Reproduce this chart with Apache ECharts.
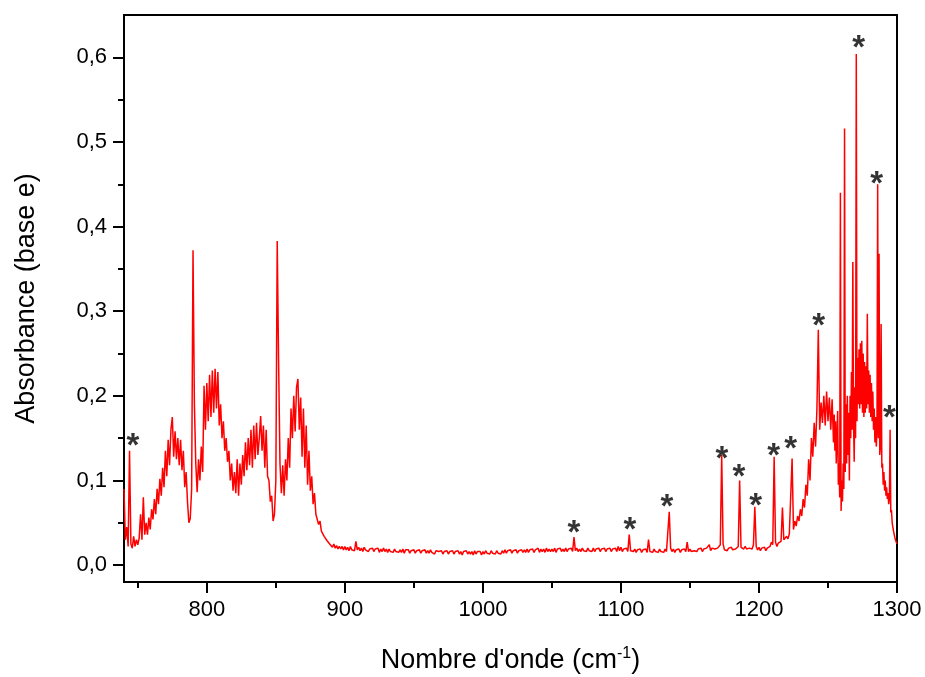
<!DOCTYPE html>
<html>
<head>
<meta charset="utf-8">
<script src="https://cdn.jsdelivr.net/npm/echarts@6/dist/echarts.min.js"></script>
<style>
html,body{margin:0;padding:0;background:#fff;}
#chart{width:925px;height:677px;}
</style>
</head>
<body>
<div id="chart"></div>
<script>
// ---- data ----
const lowStart = 740;   // wavenumber of first value
const lowStep = 1;      // cm-1 between values
const lowAbs = [
/*740*/ 0.090,0.030,0.045,0.022,0.135,0.025,0.020,0.034,0.022,0.030,
/*750*/ 0.024,0.032,0.060,0.030,0.080,0.036,0.050,0.036,0.056,0.042,
/*760*/ 0.066,0.054,0.078,0.060,0.090,0.072,0.102,0.082,0.115,0.092,
/*770*/ 0.135,0.105,0.148,0.118,0.160,0.175,0.128,0.158,0.125,0.150,
/*780*/ 0.118,0.148,0.112,0.135,0.092,0.110,0.075,0.050,0.055,0.090,
/*790*/ 0.372,0.190,0.120,0.086,0.125,0.100,0.140,0.110,0.212,0.160,
/*800*/ 0.215,0.170,0.225,0.175,0.230,0.180,0.232,0.185,0.228,0.165,
/*810*/ 0.190,0.150,0.170,0.135,0.150,0.122,0.135,0.100,0.120,0.088,
/*820*/ 0.110,0.085,0.125,0.082,0.120,0.095,0.130,0.105,0.145,0.112,
/*830*/ 0.150,0.118,0.160,0.115,0.165,0.125,0.168,0.130,0.150,0.176,
/*840*/ 0.135,0.165,0.115,0.160,0.105,0.100,0.075,0.082,0.052,0.060,
/*850*/ 0.100,0.383,0.240,0.120,0.085,0.118,0.082,0.125,0.100,0.150,
/*860*/ 0.115,0.185,0.150,0.200,0.158,0.210,0.220,0.160,0.198,0.128,
/*870*/ 0.185,0.115,0.165,0.095,0.135,0.088,0.105,0.072,0.085,0.060,
/*880*/ 0.062,0.048,0.052,0.040,0.042,0.034,0.036,0.029,0.031,0.025,
/*890*/ 0.027,0.021,0.025,0.020,0.023,0.019,0.022,0.019,0.022,0.018,
/*900*/ 0.022,0.018,0.021,0.017,0.022,0.018,0.020,0.017,0.028,0.018,
/*910*/ 0.021,0.017,0.020,0.016,0.021,0.018,0.020,0.016,0.019,0.017,
/*920*/ 0.020,0.016,0.019,0.017,0.020,0.015,0.019,0.016,0.020,0.016,
/*930*/ 0.019,0.015,0.019,0.016,0.018,0.015,0.019,0.016,0.018,0.015,
/*940*/ 0.018,0.015,0.019,0.014,0.018,0.016,0.018,0.014,0.017,0.015,
/*950*/ 0.018,0.014,0.017,0.015,0.018,0.014,0.017,0.015,0.018,0.014,
/*960*/ 0.017,0.014,0.018,0.015,0.017,0.013,0.017,0.015,0.016,0.014,
/*970*/ 0.017,0.013,0.016,0.014,0.017,0.013,0.016,0.014,0.017,0.013,
/*980*/ 0.016,0.014,0.017,0.013,0.016,0.012,0.016,0.014,0.017,0.013,
/*990*/ 0.016,0.013,0.016,0.012,0.017,0.013,0.016,0.014,0.016,0.012,
/*1000*/ 0.016,0.013,0.017,0.014,0.016,0.013,0.017,0.014,0.016,0.013,
/*1010*/ 0.017,0.014,0.016,0.013,0.017,0.014,0.018,0.014,0.017,0.015,
/*1020*/ 0.018,0.014,0.017,0.015,0.018,0.014,0.017,0.015,0.018,0.015,
/*1030*/ 0.018,0.015,0.019,0.015,0.018,0.016,0.019,0.015,0.018,0.016,
/*1040*/ 0.020,0.015,0.019,0.016,0.019,0.015,0.020,0.016,0.019,0.016,
/*1050*/ 0.019,0.016,0.020,0.015,0.019,0.017,0.020,0.016,0.019,0.016,
/*1060*/ 0.020,0.016,0.019,0.017,0.020,0.016,0.033,0.017,0.020,0.016,
/*1070*/ 0.019,0.016,0.020,0.017,0.019,0.016,0.020,0.017,0.019,0.016,
/*1080*/ 0.020,0.016,0.019,0.017,0.020,0.016,0.019,0.017,0.020,0.016,
/*1090*/ 0.019,0.017,0.020,0.016,0.019,0.017,0.020,0.016,0.022,0.017,
/*1100*/ 0.021,0.016,0.019,0.017,0.020,0.016,0.036,0.017,0.019,0.016,
/*1110*/ 0.019,0.015,0.018,0.016,0.019,0.015,0.018,0.016,0.019,0.015,
/*1120*/ 0.030,0.016,0.018,0.015,0.019,0.016,0.018,0.015,0.019,0.016,
/*1130*/ 0.018,0.015,0.019,0.016,0.018,0.063,0.020,0.016,0.019,0.015,
/*1140*/ 0.018,0.016,0.019,0.015,0.018,0.016,0.019,0.016,0.027,0.016,
/*1150*/ 0.019,0.016,0.018,0.017,0.019,0.016,0.019,0.017,0.020,0.016,
/*1160*/ 0.019,0.017,0.020,0.018,0.024,0.017,0.020,0.018,0.019,0.017,
/*1170*/ 0.020,0.018,0.024,0.130,0.025,0.018,0.020,0.017,0.020,0.018,
/*1180*/ 0.021,0.018,0.020,0.019,0.021,0.022,0.100,0.021,0.022,0.019,
/*1190*/ 0.022,0.019,0.021,0.020,0.022,0.019,0.024,0.069,0.022,0.018,
/*1200*/ 0.021,0.017,0.020,0.018,0.021,0.017,0.020,0.018,0.022,0.027,
/*1210*/ 0.024,0.128,0.027,0.022,0.026,0.024,0.028,0.068,0.030,0.028,
/*1220*/ 0.034,0.031,0.037,0.035,0.126,0.042,0.052,0.046,0.058,0.052,
/*1230*/ 0.066,0.058,0.078,0.068,0.095,0.082,0.125,0.100,0.150,0.128,
/*1240*/ 0.168,0.140,0.185,0.278,0.160,0.192,0.168,0.200,0.165,0.205,
/*1250*/ 0.170,0.198,0.160,0.196,0.145
];
// finer readings in the crowded high-wavenumber end: [wavenumber, absorbance]
const highAbs = [
[1254.5,0.178],[1255.0,0.135],[1255.5,0.170],[1256.0,0.120],[1256.5,0.150],
[1257.0,0.182],[1257.5,0.095],[1258.0,0.120],[1258.5,0.080],[1259.0,0.440],
[1259.5,0.064],[1260.0,0.100],[1260.5,0.075],[1261.0,0.120],[1261.5,0.090],
[1262.0,0.516],[1262.5,0.110],[1263.0,0.190],[1263.5,0.120],[1264.0,0.200],
[1264.5,0.130],[1265.0,0.180],[1265.5,0.100],[1266.0,0.200],[1266.5,0.150],
[1267.0,0.228],[1267.5,0.160],[1268.0,0.358],[1268.5,0.170],[1269.0,0.122],
[1269.5,0.210],[1270.0,0.150],[1270.5,0.604],[1271.0,0.170],[1271.5,0.245],
[1272.0,0.190],[1272.5,0.255],[1273.0,0.185],[1273.5,0.262],[1274.0,0.190],
[1274.5,0.265],[1275.0,0.180],[1275.5,0.250],[1276.0,0.175],[1276.5,0.240],
[1277.0,0.180],[1277.5,0.235],[1278.0,0.185],[1278.5,0.297],[1279.0,0.190],
[1279.5,0.230],[1280.0,0.180],[1280.5,0.225],[1281.0,0.175],[1281.5,0.215],
[1282.0,0.170],[1282.5,0.205],[1283.0,0.160],[1283.5,0.185],[1284.0,0.145],
[1284.5,0.175],[1285.0,0.140],[1285.5,0.160],[1286.0,0.450],[1286.5,0.150],
[1287.0,0.368],[1287.5,0.130],[1288.0,0.140],[1288.5,0.285],[1289.0,0.115],
[1289.5,0.120],[1290.0,0.095],[1290.5,0.110],[1291.0,0.088],[1291.5,0.100],
[1292.0,0.082],[1292.5,0.092],[1293.0,0.078],[1293.5,0.085],[1294.0,0.072],
[1294.5,0.078],[1295.0,0.160],[1295.5,0.062],[1296.0,0.065],[1296.5,0.050],
[1297.0,0.048],[1297.5,0.040],[1298.0,0.038],[1298.5,0.032],[1299.0,0.030],
[1299.5,0.027],[1300.0,0.025]
];
// asterisk markers
const starWavenumber = [746.5, 1066, 1106.6, 1133.3, 1173.1, 1185.4, 1197.7, 1210.7, 1223, 1243.3, 1272.2, 1285.2, 1294.6];
const starAbs        = [0.149, 0.046, 0.050, 0.077, 0.134, 0.113, 0.078, 0.137, 0.145, 0.291, 0.619, 0.459, 0.182];
// ticks
const xMajorTicks = [800, 900, 1000, 1100, 1200, 1300];
const xMinorTicks = [750, 850, 950, 1050, 1150, 1250];
const yMajorTicks = [0, 0.1, 0.2, 0.3, 0.4, 0.5, 0.6];
const yMinorTicks = [0.05, 0.15, 0.25, 0.35, 0.45, 0.55];
const xTitle = "Nombre d'onde (cm";
const xTitleSup = "-1";
const yTitle = "Absorbance (base e)";

// ---- chart ----
const spectrum = lowAbs.map((v, i) => [lowStart + i * lowStep, v]).concat(highAbs);
const stars = starWavenumber.map((x, i) => [x, starAbs[i]]);
const FONT = "'Liberation Sans', Arial, sans-serif";
const X_MIN = 740, X_MAX = 1300, Y_MIN = -0.02, Y_MAX = 0.65;

const chart = echarts.init(document.getElementById('chart'), null, {renderer: 'canvas'});
chart.setOption({
  animation: false,
  backgroundColor: '#fff',
  grid: {left: 124, right: 28, top: 15, bottom: 95, containLabel: false, outerBoundsMode: 'none',
    show: true, borderColor: '#000', borderWidth: 2, backgroundColor: 'transparent'},
  xAxis: [{
    type: 'value', min: X_MIN, max: X_MAX, position: 'bottom',
    axisLine: {show: true, onZero: false, lineStyle: {color: '#000', width: 2}},
    axisTick: {show: true, customValues: xMajorTicks, length: 11, inside: false, lineStyle: {color: '#000', width: 2}},
    axisLabel: {show: true, customValues: xMajorTicks, color: '#000', fontSize: 22, fontFamily: FONT, margin: 17,
      formatter: v => String(Math.round(v))},
    splitLine: {show: false},
    name: xTitle + '{sup|' + xTitleSup + '})',
    nameLocation: 'middle', nameGap: 64,
    nameTextStyle: {color: '#000', fontSize: 27, fontFamily: FONT,
      rich: {sup: {fontSize: 16, fontFamily: FONT, color: '#000', verticalAlign: 'top', padding: [0, 0, 14, 0]}}}
  }, {
    type: 'value', min: X_MIN, max: X_MAX, position: 'bottom',
    axisLine: {show: false, onZero: false},
    axisTick: {show: true, customValues: xMinorTicks, length: 6, inside: false, lineStyle: {color: '#000', width: 2}},
    axisLabel: {show: false},
    splitLine: {show: false}
  }],
  yAxis: [{
    type: 'value', min: Y_MIN, max: Y_MAX, position: 'left',
    axisLine: {show: true, onZero: false, lineStyle: {color: '#000', width: 2}},
    axisTick: {show: true, customValues: yMajorTicks, length: 11, inside: false, lineStyle: {color: '#000', width: 2}},
    axisLabel: {show: true, customValues: yMajorTicks, color: '#000', fontSize: 22, fontFamily: FONT, margin: 17,
      formatter: v => v.toFixed(1).replace('.', ',')},
    splitLine: {show: false},
    name: yTitle, nameLocation: 'middle', nameGap: 84, nameRotate: 90,
    nameTextStyle: {color: '#000', fontSize: 27, fontFamily: FONT}
  }, {
    type: 'value', min: Y_MIN, max: Y_MAX, position: 'left',
    axisLine: {show: false, onZero: false},
    axisTick: {show: true, customValues: yMinorTicks, length: 6, inside: false, lineStyle: {color: '#000', width: 2}},
    axisLabel: {show: false},
    splitLine: {show: false}
  }],
  series: [{
    type: 'line', xAxisIndex: 0, yAxisIndex: 0,
    data: spectrum, showSymbol: false, symbol: 'none',
    lineStyle: {color: '#ff0000', width: 1.5}, itemStyle: {color: '#ff0000'},
    clip: true, z: 2
  }, {
    type: 'scatter', xAxisIndex: 0, yAxisIndex: 0,
    data: stars, symbolSize: 1, itemStyle: {color: 'rgba(0,0,0,0)'},
    label: {show: true, position: 'inside', formatter: '*', color: '#000', textBorderWidth: 0,
      fontSize: 33, fontWeight: 'bold', fontFamily: FONT, offset: [0, 8]},
    z: 3
  }]
});
</script>
</body>
</html>
